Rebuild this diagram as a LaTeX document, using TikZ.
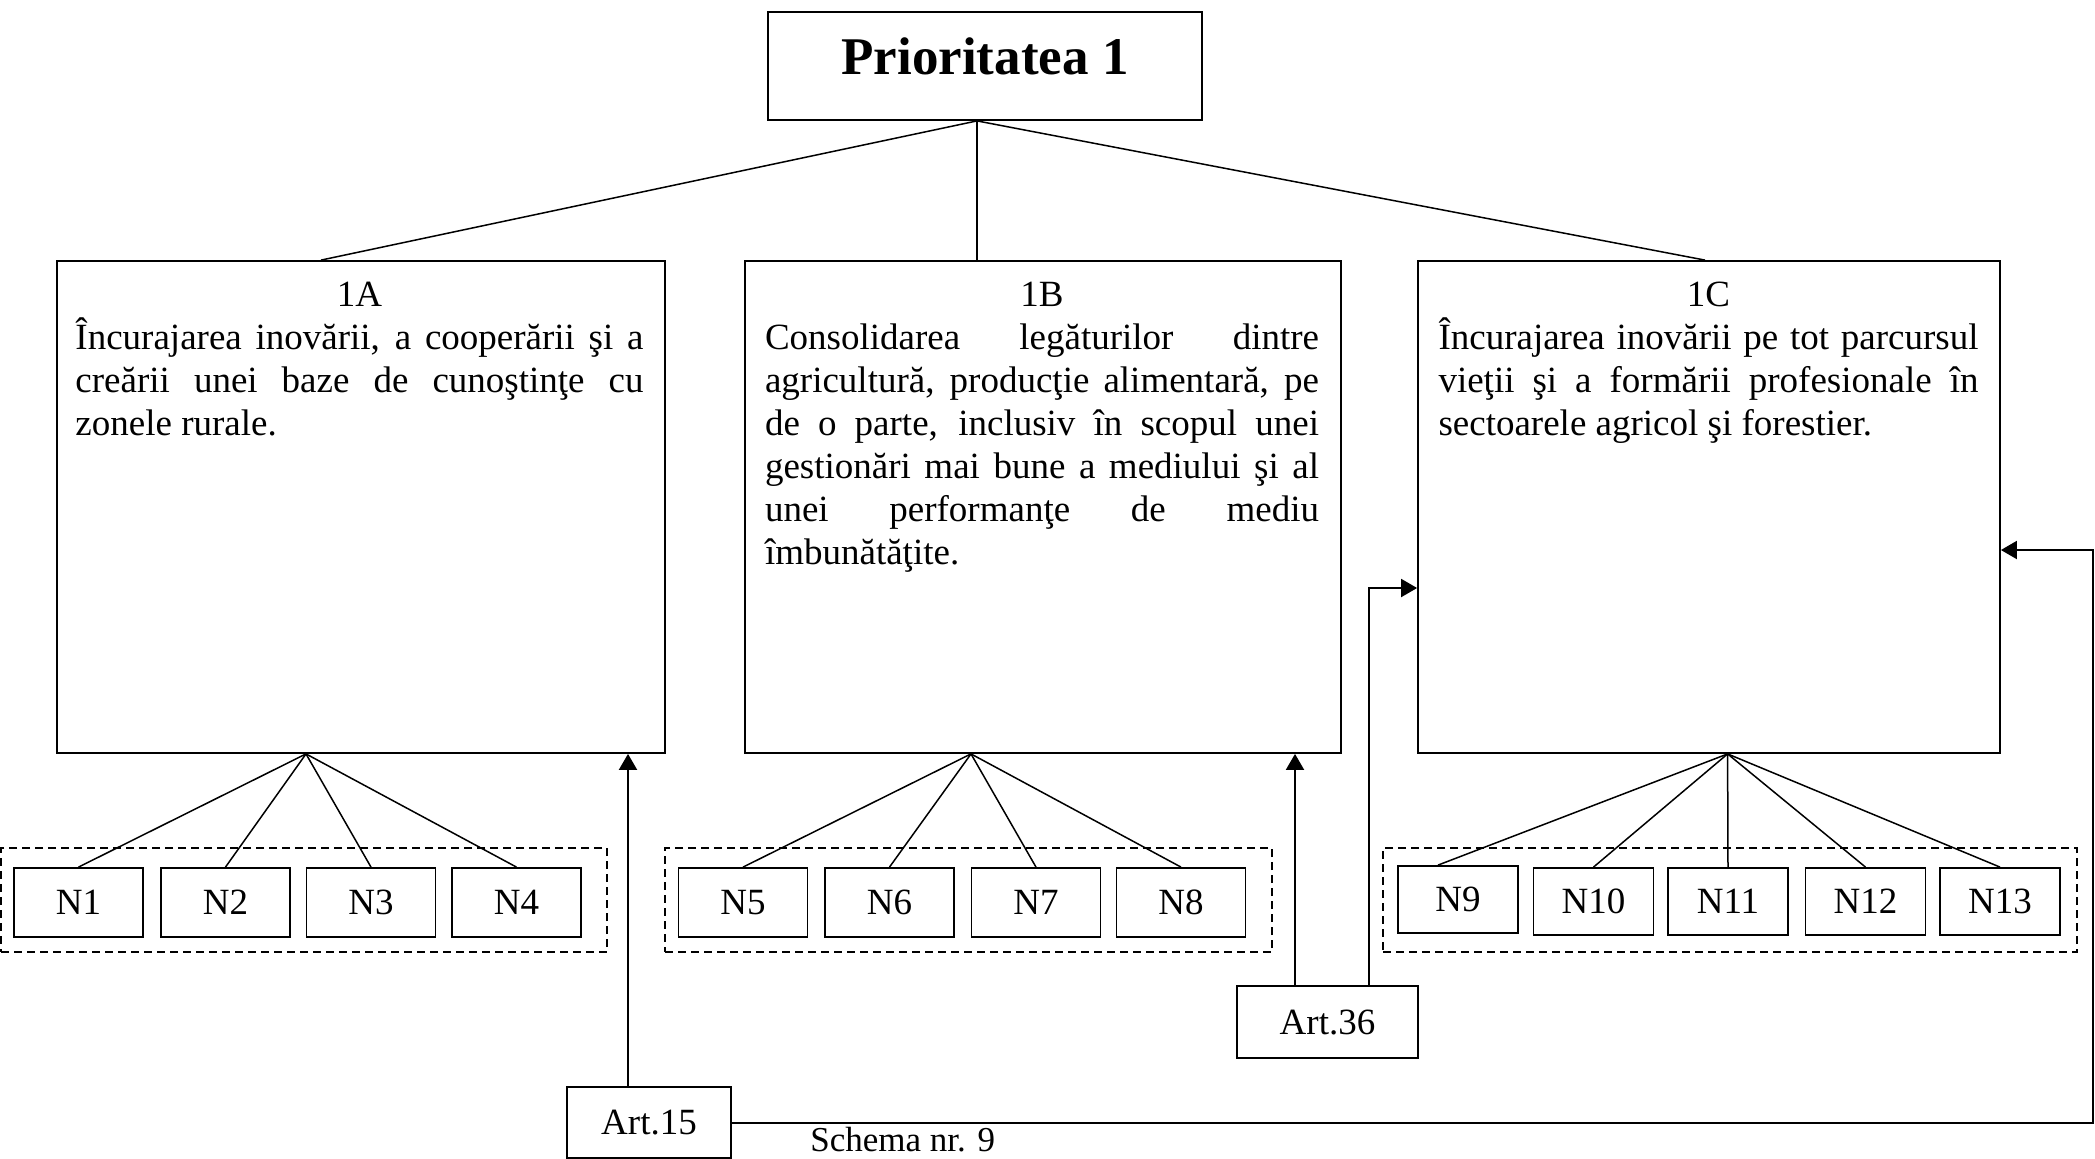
\documentclass[tikz,border=0pt]{standalone}
\usepackage{fontspec}
\setmainfont{Liberation Serif}
\usetikzlibrary{arrows.meta}
\newcommand{\jline}[1]{\hbox to\linewidth{#1}}
\begin{document}
\begin{tikzpicture}[x=0.5pt,y=-0.5pt,
  every node/.style={font=\fontsize{18.5}{21.5}\selectfont},
  box/.style={draw, line width=0.9pt, inner sep=0pt},
  bigbox/.style={box, minimum height=246pt},
  nbox/.style={box, minimum width=64.5pt, minimum height=34.5pt},
  ncbox/.style={box, minimum width=60pt, minimum height=33.5pt},
  group/.style={draw, dash pattern=on 4pt off 2.5pt, line width=0.8pt, inner sep=0pt, minimum height=52pt},
  fan/.style={line width=0.75pt},
  arr/.style={line width=1pt, -{Triangle[length=8pt,width=9pt]}},
  txt/.style={inner sep=0pt, anchor=base west}]
  \useasboundingbox (0,0) rectangle (2095,1158);
  \node[box, minimum width=217pt, minimum height=54pt, text depth=10pt, font=\bfseries\fontsize{26.5}{30}\selectfont] (prio) at (985,66) {Prioritatea 1};
  \node[bigbox, minimum width=304pt] (boxA) at (361,507) {};
  \node[bigbox, minimum width=298pt] (boxB) at (1043,507) {};
  \node[bigbox, minimum width=291pt] (boxC) at (1709,507) {};
  \node[txt] (txtA) at ([xshift=9.5pt,yshift=-23pt]boxA.north west) {\parbox[t]{284pt}{%
    \jline{\hfil 1A\hfil}\jline{Încurajarea inovării, a cooperării şi a}\jline{creării unei baze de cunoştinţe cu}zonele rurale.}};
  \node[txt] (txtB) at ([xshift=10.25pt,yshift=-23pt]boxB.north west) {\parbox[t]{277pt}{%
    \jline{\hfil 1B\hfil}\jline{Consolidarea legăturilor dintre}\jline{agricultură, producţie alimentară, pe}\jline{de o parte, inclusiv în scopul unei}\jline{gestionări mai bune a mediului şi al}\jline{unei performanţe de mediu}îmbunătăţite.}};
  \node[txt] (txtC) at ([xshift=10.5pt,yshift=-23pt]boxC.north west) {\parbox[t]{270pt}{%
    \jline{\hfil 1C\hfil}\jline{Încurajarea inovării pe tot parcursul}\jline{vieţii şi a formării profesionale în}sectoarele agricol şi forestier.}};
  \draw[fan] ([xshift=-4pt]prio.south) -- ([xshift=-20pt]boxA.north);
  \draw[fan] ([xshift=-4pt]prio.south) -- ([xshift=-33pt]boxB.north);
  \draw[fan] ([xshift=-4pt]prio.south) -- ([xshift=-2pt]boxC.north);
  \node[group, minimum width=303pt] (grpA) at (304,900) {};
  \node[group, minimum width=303.5pt] (grpB) at (968.5,900) {};
  \node[group, minimum width=347pt] (grpC) at (1730,900) {};
  \node[nbox] (n1) at (78.5,902.5) {N1};
  \node[nbox] (n2) at (225.5,902.5) {N2};
  \node[nbox] (n3) at (371,902.5) {N3};
  \node[nbox] (n4) at (516.5,902.5) {N4};
  \node[nbox] (n5) at (743,902.5) {N5};
  \node[nbox] (n6) at (889.5,902.5) {N6};
  \node[nbox] (n7) at (1036,902.5) {N7};
  \node[nbox] (n8) at (1181,902.5) {N8};
  \node[ncbox] (n9) at (1458,899.5) {N9};
  \node[ncbox] (n10) at (1593.5,901.5) {N10};
  \node[ncbox] (n11) at (1728,901.5) {N11};
  \node[ncbox] (n12) at (1865.5,901.5) {N12};
  \node[ncbox] (n13) at (2000,901.5) {N13};
  \coordinate (fanA) at ([xshift=-27.5pt]boxA.south);
  \coordinate (fanB) at ([xshift=-36pt]boxB.south);
  \coordinate (fanC) at ([xshift=9.3pt]boxC.south);
  \draw[fan] (fanA) -- (n1.north);
  \draw[fan] (fanA) -- (n2.north);
  \draw[fan] (fanA) -- (n3.north);
  \draw[fan] (fanA) -- (n4.north);
  \draw[fan] (fanB) -- (n5.north);
  \draw[fan] (fanB) -- (n6.north);
  \draw[fan] (fanB) -- (n7.north);
  \draw[fan] (fanB) -- (n8.north);
  \draw[fan] (fanC) -- ([xshift=-10pt]n9.north);
  \draw[fan] (fanC) -- (n10.north);
  \draw[fan] (fanC) -- (n11.north);
  \draw[fan] (fanC) -- (n12.north);
  \draw[fan] (fanC) -- (n13.north);
  \node[box, minimum width=90.5pt, minimum height=36pt] (art36) at (1327.5,1022) {Art.36};
  \node[box, minimum width=82pt, minimum height=35.5pt] (art15) at (649,1122.5) {Art.15};
  \node[txt, font=\fontsize{17.5}{20}\selectfont] (schema) at (810,1151) {Schema nr. 9};
  \coordinate (up15) at ([xshift=-10.5pt]art15.north);
  \draw[arr] (up15) -- (up15 |- boxA.south);
  \coordinate (back) at (2093,550);
  \draw[arr] (art15.east) -| (back) -- (back -| boxC.east);
  \coordinate (up36) at ([xshift=-16.25pt]art36.north);
  \draw[arr] (up36) -- (up36 |- boxB.south);
  \coordinate (turn) at (1369,588);
  \draw[arr] (art36.north -| turn) -- (turn) -- (turn -| boxC.west);
\end{tikzpicture}
\end{document}
